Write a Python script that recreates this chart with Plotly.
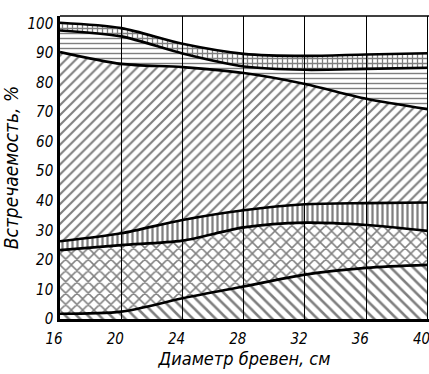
import plotly.graph_objects as go

# Log diameter, cm
diam = [16, 20, 24, 28, 32, 36, 40]
# Cumulative boundaries of the stacked layers (occurrence, %)
b1 = [1.8, 2.5, 7.0, 11.0, 15.0, 17.3, 18.3]
b2 = [23.3, 25.0, 26.5, 31.0, 32.6, 31.8, 29.8]
b3 = [26.3, 29.0, 33.5, 36.8, 38.8, 39.2, 39.4]
b4 = [90.3, 86.3, 85.2, 83.2, 79.5, 74.5, 71.0]
b5 = [97.6, 95.6, 89.8, 85.4, 84.3, 84.6, 85.0]
b6 = [100.2, 98.4, 93.1, 89.7, 89.0, 89.5, 89.9]

x_ticks = [16, 20, 24, 28, 32, 36, 40]
y_ticks = list(range(0, 101, 10))

layers = [
    (b1, "tozeroy", "\\", 8, 0.32),
    (b2, "tonexty", "x", 8, 0.34),
    (b3, "tonexty", "|", 5, 0.45),
    (b4, "tonexty", "/", 7, 0.3),
    (b5, "tonexty", "-", 5, 0.28),
    (b6, "tonexty", "+", 5, 0.45),
]

fig = go.Figure()
for vals, fill, shape, size, sol in layers:
    fig.add_trace(go.Scatter(
        x=diam, y=vals, mode="lines", fill=fill,
        line=dict(color="black", width=2.6, shape="spline", smoothing=0.8),
        fillcolor="black",
        fillpattern=dict(shape=shape, size=size, solidity=sol,
                         fgcolor="black", bgcolor="rgba(0,0,0,0)"),
        showlegend=False, hoverinfo="skip",
    ))

font_family = "DejaVu Sans Condensed, Liberation Sans Narrow, DejaVu Sans"

fig.update_layout(
    width=429, height=374,
    margin=dict(l=60, r=0, t=16, b=55),
    paper_bgcolor="white", plot_bgcolor="white",
    font=dict(family=font_family, color="black", size=13, style="italic"),
    xaxis=dict(
        range=[16, 40.1], tickvals=x_ticks, ticktext=[str(v) for v in x_ticks],
        showgrid=True, gridcolor="black", gridwidth=1.4,
        showline=True, linecolor="black", linewidth=2.5,
        ticks="", zeroline=False, automargin=False,
        ticklabelshift=-6, ticklabelstandoff=4, ticklabeloverflow="allow",
        tickfont=dict(size=15, style="italic"),
        title=dict(text="Диаметр бревен, см", font=dict(size=18, style="italic"), standoff=2),
    ),
    yaxis=dict(
        range=[0, 102.5], tickvals=y_ticks, ticktext=[str(v) for v in y_ticks],
        showgrid=False, showline=True, linecolor="black", linewidth=2.5,
        ticks="", zeroline=False, automargin=False,
        ticklabelstandoff=1,
        tickfont=dict(size=15, style="italic"),
        title=dict(text="Встречаемость, %", font=dict(size=19, style="italic"), standoff=14),
    ),
    shapes=[dict(type="line", xref="paper", yref="paper", x0=0, x1=1, y0=1, y1=1,
                 line=dict(color="black", width=1.5))],
)

fig.write_html("out.html", config={"displayModeBar": False},
               post_script="document.body.style.margin='0';")
